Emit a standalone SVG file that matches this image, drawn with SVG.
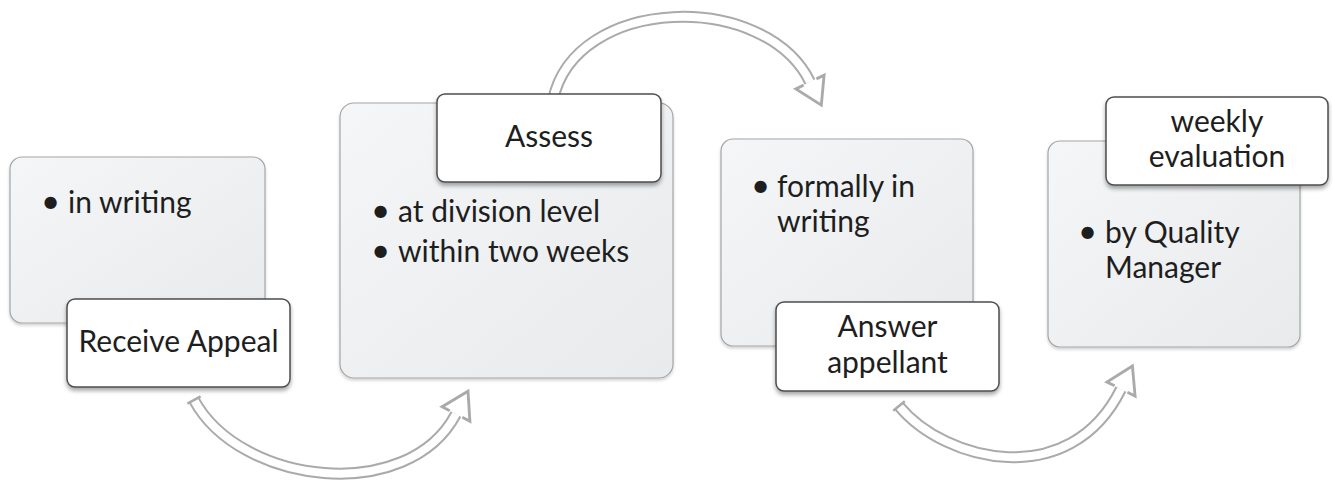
<svg xmlns="http://www.w3.org/2000/svg" width="1333" height="485" viewBox="0 0 1333 485">
  <style>
    .panel { fill: url(#panelFill); stroke: #a4a6a8; stroke-width: 1.2; filter: url(#softShadow); }
    .label { fill: #ffffff; stroke: #4d4d4d; stroke-width: 1.5; filter: url(#labelShadow); }
    .txt { font-family: Lato, "Open Sans", "Liberation Sans", sans-serif; font-size: 30px; fill: #1e1e1e; }
    .bul { font-size: 33px; }
    .ctr { text-anchor: middle; }
    .arrowOuter { fill: none; stroke: #aaaaaa; stroke-width: 12; stroke-linecap: butt; }
    .arrowInner { fill: none; stroke: #ffffff; stroke-width: 8; stroke-linecap: butt; marker-start: url(#tail); marker-end: url(#head); }
  </style>
  <defs>
    <linearGradient id="panelFill" x1="0" y1="0" x2="1" y2="1">
      <stop offset="0" stop-color="#f5f6f7"/>
      <stop offset="1" stop-color="#e8eaec"/>
    </linearGradient>
    <filter id="softShadow" x="-10%" y="-10%" width="120%" height="125%">
      <feDropShadow dx="0" dy="2" stdDeviation="1.5" flood-color="#000000" flood-opacity="0.18"/>
    </filter>
    <filter id="labelShadow" x="-10%" y="-10%" width="120%" height="130%">
      <feDropShadow dx="0" dy="3" stdDeviation="2" flood-color="#000000" flood-opacity="0.35"/>
    </filter>
    <marker id="head" markerUnits="userSpaceOnUse" orient="auto" refX="0" refY="0" markerWidth="40" markerHeight="40" viewBox="-3 -14 26 28" overflow="visible">
      <path d="M0,-5 L0,-11 L18,0 L0,11 L0,5" fill="#ffffff" stroke="#aaaaaa" stroke-width="2" stroke-linejoin="miter"/>
    </marker>
    <marker id="tail" markerUnits="userSpaceOnUse" orient="auto" refX="0" refY="0" markerWidth="20" markerHeight="20" viewBox="-4 -8 8 16" overflow="visible">
      <path d="M0,-6 L0,6" fill="none" stroke="#aaaaaa" stroke-width="2"/>
    </marker>
  </defs>

  <g id="connectors">
    <path class="arrowOuter" d="M194,400 C240,485 408,505 456,414"/>
    <path class="arrowInner" d="M194,400 C240,485 408,505 456,414"/>
    <path class="arrowOuter" d="M553,100 C575,-5 765,-10 810,82"/>
    <path class="arrowInner" d="M553,100 C575,-5 765,-10 810,82"/>
    <path class="arrowOuter" d="M899,406 C945,462 1070,492 1121,389"/>
    <path class="arrowInner" d="M899,406 C945,462 1070,492 1121,389"/>
  </g>

  <g id="node-receive-appeal">
    <rect class="panel" x="10" y="157" width="255" height="166" rx="12"/>
    <text class="txt"><tspan class="bul" x="41" y="213">•</tspan><tspan x="68" y="213">in writing</tspan></text>
    <rect class="label" x="67" y="299" width="223" height="88" rx="8"/>
    <text class="txt ctr" x="178.5" y="352">Receive Appeal</text>
  </g>

  <g id="node-assess">
    <rect class="panel" x="340" y="103" width="333" height="275" rx="14"/>
    <text class="txt"><tspan class="bul" x="371" y="222">•</tspan><tspan x="398" y="222">at division level</tspan></text>
    <text class="txt"><tspan class="bul" x="371" y="262">•</tspan><tspan x="398" y="262">within two weeks</tspan></text>
    <rect class="label" x="437" y="94" width="224" height="88" rx="8"/>
    <text class="txt ctr" x="549" y="147">Assess</text>
  </g>

  <g id="node-answer-appellant">
    <rect class="panel" x="721" y="139" width="252" height="207" rx="12"/>
    <text class="txt"><tspan class="bul" x="751" y="197">•</tspan><tspan x="777" y="197">formally in</tspan><tspan x="777" y="232">writing</tspan></text>
    <rect class="label" x="776" y="302" width="223" height="89" rx="8"/>
    <text class="txt ctr"><tspan x="887.5" y="337">Answer</tspan><tspan x="887.5" y="373">appellant</tspan></text>
  </g>

  <g id="node-weekly-evaluation">
    <rect class="panel" x="1048" y="141" width="252" height="206" rx="12"/>
    <text class="txt"><tspan class="bul" x="1078" y="243">•</tspan><tspan x="1105" y="243">by Quality</tspan><tspan x="1105" y="278">Manager</tspan></text>
    <rect class="label" x="1106" y="97" width="222" height="88" rx="8"/>
    <text class="txt ctr"><tspan x="1217" y="132">weekly</tspan><tspan x="1217" y="167">evaluation</tspan></text>
  </g>
</svg>
